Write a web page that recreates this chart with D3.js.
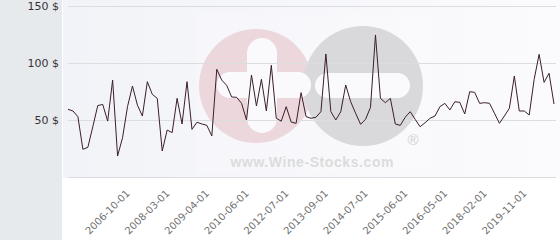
<!DOCTYPE html>
<html>
<head>
<meta charset="utf-8">
<script src="https://cdn.jsdelivr.net/npm/d3@7"></script>
<style>
  body { margin: 0; padding: 0; background: #fff; }
  svg { display: block; font-family: "DejaVu Sans", sans-serif; }
</style>
</head>
<body>
<div id="chart"></div>
<script>
// price per bottle, one point per listed date
const prices = [
    59.4, 57.9, 52.9, 24.3, 26, 44, 62.6, 63.7, 49, 85, 18.4, 34.5, 61.7, 79.8, 63, 53.5, 83.6, 72.5, 69, 22.8, 41.2, 38.9, 69, 46.5, 83.6,
    41.8, 48, 46.5, 45.3, 36, 94.5, 85, 80.4, 70.2, 69.9, 64.6, 50, 89.5, 62.3, 85.7, 57.9, 98, 51.5, 49, 61.7, 48.2, 47.1, 74, 53,
    51.5, 52.4, 57.3, 107.9, 57.3, 50, 57.3, 80.7, 66, 55.9, 46.2, 50.6, 61.1, 124.6, 69, 65.2, 69, 46.5, 45.3, 52.4, 57.3, 50.6, 44.1, 47.6, 51.5,
    53.5, 61.7, 64.6, 58.8, 66, 65.5, 55.3, 74.8, 74.3, 64.6, 65.2, 64.6, 55.9, 47.1, 53.5, 60.3, 88.6, 57.9, 57.9, 54.4, 85.7, 107.6, 83, 91, 64
];

// dates shown on the x axis and the point they sit on
const dateLabels = ["2006-10-01", "2008-03-01", "2009-04-01", "2010-06-01", "2012-07-01", "2013-09-01",
    "2014-07-01", "2015-06-01", "2016-05-01", "2018-02-01", "2019-11-01"];
const dateIndex = [12, 20, 28, 36, 44, 52, 60, 68, 76, 84, 92];

const yTicks = [50, 100, 150];

const width = 560, height = 240;
const margins = {top: 6, bottom: 63, left: 68, right: 6};
const chart_width = width - margins.left - margins.right;
const chart_height = height - margins.top - margins.bottom;

const svg = d3.select("#chart").append("svg")
    .attr("width", width)
    .attr("height", height);

const defs = svg.append("defs");
const grad = defs.append("linearGradient").attr("id", "bg").attr("x1", 0).attr("x2", 1).attr("y1", 0).attr("y2", 0);
grad.append("stop").attr("offset", "0%").attr("stop-color", "#f2f3f8");
grad.append("stop").attr("offset", "100%").attr("stop-color", "#fbfbfd");

// left panel + plot background
svg.append("rect").attr("x", 0).attr("y", 0).attr("width", 62).attr("height", height).attr("fill", "#e7eaed");
svg.append("rect").attr("x", 63).attr("y", 0).attr("width", width - 63).attr("height", 178).attr("fill", "url(#bg)");

// watermark logo
const wm = svg.append("g").attr("id", "watermark");
wm.append("rect").attr("x", 196).attr("y", 14).attr("width", 233).attr("height", 160).attr("fill", "#fff").attr("opacity", 0.2);
wm.append("circle").attr("cx", 256).attr("cy", 86).attr("r", 57).attr("fill", "#ecd7dc");
wm.append("circle").attr("cx", 363).attr("cy", 86).attr("r", 60).attr("fill", "#d9d9db");
wm.append("rect").attr("x", 247).attr("y", 38).attr("width", 30).attr("height", 95).attr("rx", 15).attr("fill", "#fafafc");
wm.append("rect").attr("x", 217).attr("y", 72).attr("width", 94).attr("height", 26).attr("rx", 13).attr("fill", "#fafafc");
wm.append("rect").attr("x", 315).attr("y", 73).attr("width", 95).attr("height", 25).attr("rx", 12.5).attr("fill", "#fafafc");
wm.append("text")
    .attr("x", 312).attr("y", 167)
    .attr("text-anchor", "middle")
    .attr("textLength", 163)
    .style("font-family", "'Liberation Sans', Arial, sans-serif")
    .style("font-weight", "bold")
    .style("font-size", "14px")
    .attr("fill", "#dcdcdc")
    .text("www.Wine-Stocks.com");
wm.append("text")
    .attr("x", 413).attr("y", 145)
    .attr("text-anchor", "middle")
    .style("font-family", "'Liberation Sans', Arial, sans-serif")
    .style("font-size", "15px")
    .attr("fill", "#cfcfcf")
    .text("®");

const chart = svg.append("g")
    .attr("transform", `translate(${margins.left}, ${margins.top})`);

const x_scale = d3.scaleLinear()
    .domain([0, prices.length - 1])
    .range([0, chart_width]);

const y_scale = d3.scaleLinear()
    .domain([0, 150])
    .range([chart_height, 0]);

// grid lines
chart.selectAll(".grid")
    .data([0].concat(yTicks))
    .enter()
    .append("line")
    .attr("class", "grid")
    .attr("x1", 0).attr("x2", chart_width + 2)
    .attr("y1", (d) => Math.round(y_scale(d)) + 0.5)
    .attr("y2", (d) => Math.round(y_scale(d)) + 0.5)
    .attr("stroke", "#dcdde0")
    .attr("stroke-width", 1);

// y labels in the grey panel
svg.selectAll(".ylab")
    .data(yTicks)
    .enter()
    .append("text")
    .attr("class", "ylab")
    .attr("x", 59)
    .attr("y", (d) => margins.top + y_scale(d) + 4)
    .attr("text-anchor", "end")
    .style("font-size", "11px")
    .attr("fill", "#333")
    .text((d) => d + " $");

// rotated date labels
chart.selectAll(".xlab")
    .data(dateLabels)
    .enter()
    .append("text")
    .attr("class", "xlab")
    .attr("text-anchor", "end")
    .attr("transform", (d, i) => `translate(${x_scale(dateIndex[i]) + 3}, ${chart_height + 17}) rotate(-45)`)
    .style("font-size", "10px")
    .attr("fill", "#707070")
    .text((d) => d);

// the price line
const line = d3.line()
    .x((d, i) => x_scale(i))
    .y((d) => y_scale(d));

chart.append("path")
    .datum(prices)
    .attr("d", line)
    .attr("fill", "none")
    .attr("stroke", "#3b1e2b")
    .attr("stroke-width", 1)
    .attr("stroke-linejoin", "round");
</script>
</body>
</html>
